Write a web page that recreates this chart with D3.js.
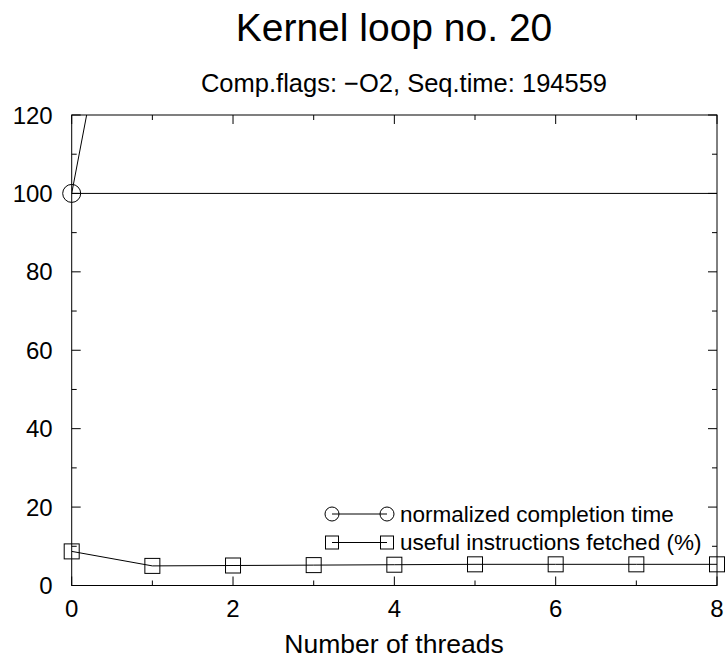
<!DOCTYPE html>
<html><head><meta charset="utf-8">
<script src="https://cdn.jsdelivr.net/npm/d3@7"></script>
<style>body{margin:0;background:#fff}svg{display:block}text{font-family:"Liberation Sans",Arial,sans-serif;fill:#000}</style>
</head><body>
<script>
const threads = [0,1,2,3,4,5,6,7,8];
const completionTime = [100,208,205,204,204,204,204,204,204];
const usefulFetched = [8.7,5.0,5.1,5.2,5.3,5.4,5.4,5.4,5.4];
const xTickLabels = [0,2,4,6,8];
const yTickLabels = [0,20,40,60,80,100,120];
const referenceLine = 100;

const W=727,H=661;
const m={l:71.7,r:717,t:115,b:585.5};
const svg=d3.select("body").append("svg").attr("width",W).attr("height",H);
const x=d3.scaleLinear().domain([0,8]).range([m.l,m.r]);
const y=d3.scaleLinear().domain([0,120]).range([m.b,m.t]);

svg.append("defs").append("clipPath").attr("id","c").append("rect")
  .attr("x",m.l).attr("y",m.t).attr("width",m.r-m.l).attr("height",m.b-m.t);

// frame
svg.append("rect").attr("x",m.l).attr("y",m.t).attr("width",m.r-m.l).attr("height",m.b-m.t)
  .attr("fill","none").attr("stroke","#000").attr("stroke-width",1);

// ticks
const g=svg.append("g").attr("stroke","#000").attr("stroke-width",1);
d3.range(0,121,10).forEach(v=>{
  const L = v%20===0?9:5;
  g.append("line").attr("x1",m.l).attr("x2",m.l+L).attr("y1",y(v)).attr("y2",y(v));
  g.append("line").attr("x1",m.r).attr("x2",m.r-L).attr("y1",y(v)).attr("y2",y(v));
});
threads.forEach(v=>{
  const L = v%2===0?9:5;
  g.append("line").attr("x1",x(v)).attr("x2",x(v)).attr("y1",m.b).attr("y2",m.b-L);
  g.append("line").attr("x1",x(v)).attr("x2",x(v)).attr("y1",m.t).attr("y2",m.t+L);
});
yTickLabels.forEach(v=>svg.append("text").attr("x",m.l-19).attr("y",y(v)).attr("dy","0.36em")
  .attr("text-anchor","end").attr("font-size",24).text(v));
xTickLabels.forEach(v=>svg.append("text").attr("x",x(v)).attr("y",m.b+31)
  .attr("text-anchor","middle").attr("font-size",24).text(v));

// titles
svg.append("text").attr("x",394).attr("y",41).attr("text-anchor","middle").attr("font-size",39).text("Kernel loop no. 20");
svg.append("text").attr("x",404).attr("y",92).attr("text-anchor","middle").attr("font-size",25.5).text("Comp.flags: \u2212O2, Seq.time: 194559");
svg.append("text").attr("x",394).attr("y",653).attr("text-anchor","middle").attr("font-size",26.5).text("Number of threads");

const plot=svg.append("g").attr("clip-path","url(#c)");
plot.append("line").attr("x1",m.l).attr("x2",m.r).attr("y1",y(referenceLine)).attr("y2",y(referenceLine)).attr("stroke","#000");
const line=d3.line().x((d,i)=>x(threads[i])).y(d=>y(d));
plot.append("path").attr("d",line(completionTime)).attr("fill","none").attr("stroke","#000");
plot.append("path").attr("d",line(usefulFetched)).attr("fill","none").attr("stroke","#000");
svg.append("g").selectAll("circle").data(completionTime.map((v,i)=>[threads[i],v]).filter(d=>d[1]<=120)).join("circle")
  .attr("cx",d=>x(d[0])).attr("cy",d=>y(d[1])).attr("r",9).attr("fill","none").attr("stroke","#000");
svg.append("g").selectAll("rect").data(usefulFetched).join("rect")
  .attr("x",(d,i)=>x(threads[i])-7.5).attr("y",d=>y(d)-7.5).attr("width",15).attr("height",15)
  .attr("fill","none").attr("stroke","#000");

// legend
const lg=svg.append("g");
const rows=[{y:514,label:"normalized completion time",sym:"circle"},{y:542.5,label:"useful instructions fetched (%)",sym:"square"}];
rows.forEach(r=>{
  lg.append("line").attr("x1",332).attr("x2",387).attr("y1",r.y).attr("y2",r.y).attr("stroke","#000");
  [332,387].forEach(cx=>{
    if(r.sym==="circle") lg.append("circle").attr("cx",cx).attr("cy",r.y).attr("r",7).attr("fill","none").attr("stroke","#000");
    else lg.append("rect").attr("x",cx-6.5).attr("y",r.y-6.5).attr("width",13).attr("height",13).attr("fill","none").attr("stroke","#000");
  });
  lg.append("text").attr("x",400).attr("y",r.y).attr("dy","0.34em").attr("font-size",22.5).text(r.label);
});
</script>
</body></html>
